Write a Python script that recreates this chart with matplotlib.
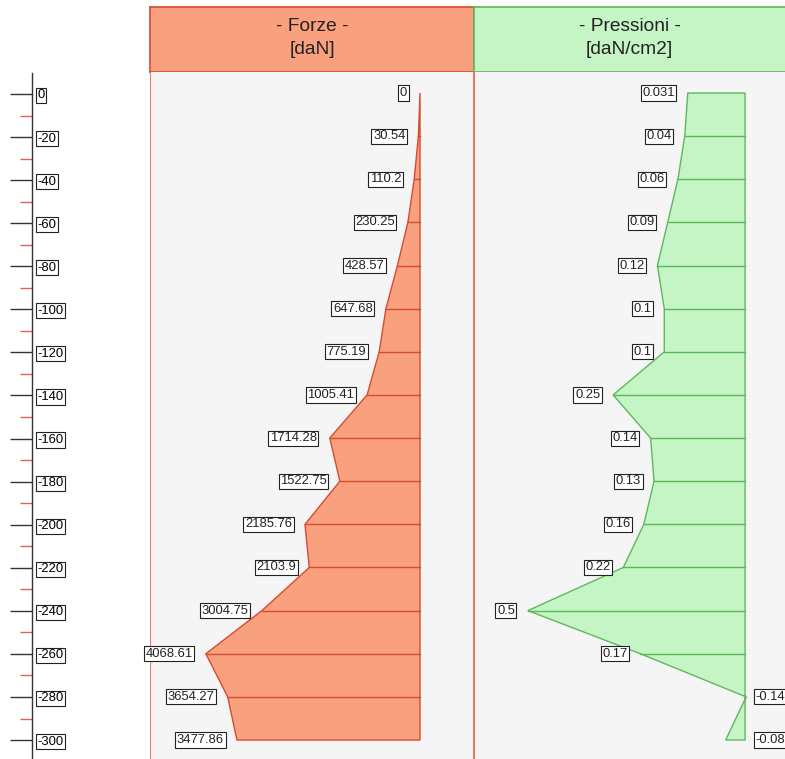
import matplotlib
matplotlib.use("Agg")
import matplotlib.pyplot as plt
from matplotlib.patches import Polygon

plt.rcParams["font.family"] = ["Liberation Sans", "DejaVu Sans"]
plt.rcParams["axes.unicode_minus"] = False

# dati
quote = [0, -20, -40, -60, -80, -100, -120, -140, -160, -180, -200,
         -220, -240, -260, -280, -300]
forze = [0, 30.54, 110.2, 230.25, 428.57, 647.68, 775.19, 1005.41,
         1714.28, 1522.75, 2185.76, 2103.9, 3004.75, 4068.61, 3654.27, 3477.86]
pressioni = [0.031, 0.04, 0.06, 0.09, 0.12, 0.1, 0.1, 0.25, 0.14, 0.13,
             0.16, 0.22, 0.5, 0.17, -0.14, -0.08]
etichette_quote = ["0", "-20", "-40", "-60", "-80", "-100", "-120", "-140",
                   "-160", "-180", "-200", "-220", "-240", "-260", "-280", "-300"]
quote_minori = [-10, -30, -50, -70, -90, -110, -130, -150, -170, -190,
                -210, -230, -250, -270, -290]

BASE_P = -0.137          # linea di riferimento pressioni
YLIM = (-308.8, 9.74)
FS = 9.4

W, H = 785, 759
fig = plt.figure(figsize=(W / 100, H / 100), dpi=100)
fig.patch.set_facecolor("white")


def px_box(x0, y0, x1, y1):
    # rettangolo in pixel (origine in alto a sinistra) -> coordinate figura
    return [x0 / W, 1 - y1 / H, (x1 - x0) / W, (y1 - y0) / H]


ROSSO = "#D64B32"
SALMONE = "#F9A07F"
VERDE = "#5DB85D"
VERDE_CHIARO = "#C5F5C5"
SFONDO = "#F5F5F5"
BOX = dict(boxstyle="square,pad=0.12", facecolor="white",
           edgecolor="#222222", linewidth=0.8)

# ── asse quote a sinistra ─────────────────────────────
ax_q = fig.add_axes(px_box(32, 73, 33, 759))
ax_q.set_ylim(*YLIM)
ax_q.set_xlim(0, 1)
for s in ["top", "right", "bottom"]:
    ax_q.spines[s].set_visible(False)
ax_q.spines["left"].set_color("#333333")
ax_q.spines["left"].set_linewidth(1.0)
ax_q.set_xticks([])
ax_q.set_yticks(quote)
ax_q.set_yticklabels(etichette_quote)
ax_q.set_yticks(quote_minori, minor=True)
ax_q.tick_params(axis="y", which="major", direction="out", length=16,
                 width=1.0, color="#333333", left=True, right=False,
                 labelleft=False, labelright=True, pad=-13, labelsize=FS)
ax_q.tick_params(axis="y", which="minor", direction="out", length=8.5,
                 width=1.0, color="#E06060", left=True, right=False)
ax_q.patch.set_alpha(0)
for lab in ax_q.get_yticklabels():
    lab.set_bbox(BOX)

# ── intestazioni ──────────────────────────────────────
for (x0, x1, colore, bordo, testo) in [
    (150, 474, SALMONE, ROSSO, "- Forze -\n[daN]"),
    (474, 790, VERDE_CHIARO, VERDE, "- Pressioni -\n[daN/cm2]"),
]:
    axh = fig.add_axes(px_box(x0, 7, x1, 72))
    axh.set_facecolor(colore)
    axh.set_xticks([])
    axh.set_yticks([])
    for s in axh.spines.values():
        s.set_color(bordo)
        s.set_linewidth(1.2)
    cx = ((x0 + min(x1, 785)) / 2 - x0) / (x1 - x0)
    axh.text(cx, 0.52, testo, ha="center", va="center", fontsize=13.8,
             color="#222222", linespacing=1.45, transform=axh.transAxes)

# ── pannello forze ────────────────────────────────────
ax_f = fig.add_axes(px_box(150, 72, 474, 759))
ax_f.set_facecolor(SFONDO)
ax_f.set_xlim(5130, -1026)
ax_f.set_ylim(*YLIM)
ax_f.set_xticks([])
ax_f.set_yticks([])
for s in ax_f.spines.values():
    s.set_visible(False)
ax_f.axvline(5130, color=ROSSO, lw=1.5, alpha=0.7)
ax_f.axvline(-1026, color=ROSSO, lw=1.5, alpha=0.7)

vert_f = [(0, quote[0])] + list(zip(forze, quote)) + [(0, quote[-1])]
ax_f.add_patch(Polygon(vert_f, closed=True, facecolor=SALMONE,
                       edgecolor=ROSSO, linewidth=1.0))
for v, q in zip(forze[1:-1], quote[1:-1]):
    ax_f.plot([v, 0], [q, q], color=ROSSO, lw=1.0)
for v, q in zip(forze, quote):
    ax_f.annotate(f"{v:g}", (v, q), xytext=(-13, 0), textcoords="offset pixels",
                  ha="right", va="center", fontsize=FS, color="#222222",
                  bbox=BOX)

# ── pannello pressioni ────────────────────────────────
ax_p = fig.add_axes(px_box(474, 72, 790, 759))
ax_p.set_facecolor(SFONDO)
ax_p.set_xlim(0.658, -0.2687)
ax_p.set_ylim(*YLIM)
ax_p.set_xticks([])
ax_p.set_yticks([])
for s in ax_p.spines.values():
    s.set_visible(False)
ax_p.axvline(0.658, color=ROSSO, lw=1.5, alpha=0.7)

vert_p = [(BASE_P, quote[0])] + list(zip(pressioni, quote)) + [(BASE_P, quote[-1])]
ax_p.add_patch(Polygon(vert_p, closed=True, facecolor=VERDE_CHIARO,
                       edgecolor=VERDE, linewidth=1.0))
for v, q in zip(pressioni[1:-1], quote[1:-1]):
    ax_p.plot([v, BASE_P], [q, q], color=VERDE, lw=1.0)
for v, q in zip(pressioni, quote):
    if v >= 0:
        ax_p.annotate(f"{v:g}", (v, q), xytext=(-13, 0), textcoords="offset pixels",
                      ha="right", va="center", fontsize=FS, color="#222222",
                      bbox=BOX)
    else:
        ax_p.annotate(f"{v:g}", (BASE_P, q), xytext=(10, 0), textcoords="offset pixels",
                      ha="left", va="center", fontsize=FS, color="#222222",
                      bbox=BOX)

fig.savefig("out.png", dpi=100, facecolor="white")
